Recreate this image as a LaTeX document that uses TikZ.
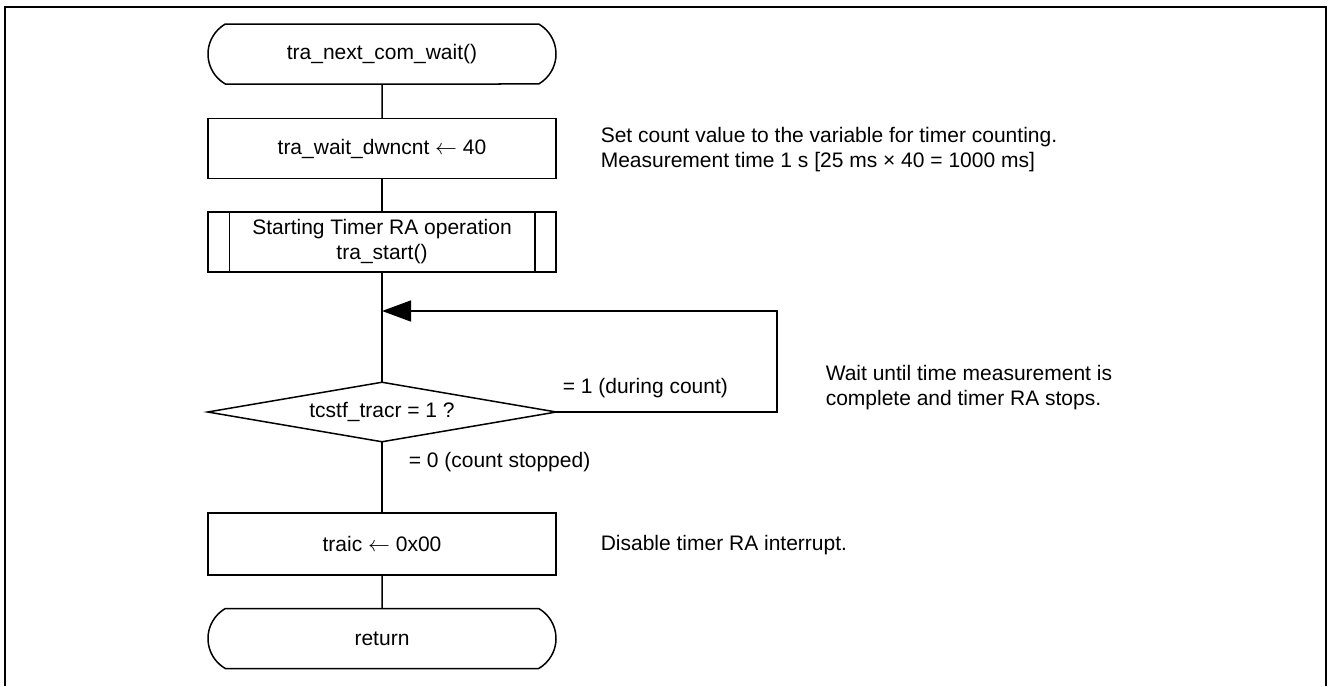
\documentclass[tikz,border=0pt]{standalone}
\usepackage{fontspec}
\setmainfont{Liberation Sans}
\usetikzlibrary{arrows.meta,shapes.misc}

\begin{document}
\begin{tikzpicture}[x=0.5pt,y=-0.5pt,
  font=\fontsize{10.5pt}{12.5pt}\selectfont,
  line width=0.75pt,
  term/.style={draw, rounded rectangle, rounded rectangle arc length=120,
    minimum width=174pt, minimum height=30pt, inner sep=0pt},
  proc/.style={draw, rectangle, minimum width=174pt, minimum height=30pt,
    inner sep=0pt, align=center},
  decide/.style={rectangle, minimum width=173.5pt, minimum height=29pt,
    inner sep=0pt},
  note/.style={anchor=west, inner sep=0pt, align=left},
  flow/.style={draw, line width=0.75pt},
  frame/.style={line width=1.1pt}
]
\useasboundingbox (0,0) rectangle (1328,686);

% page frame (open at the bottom)
\draw[frame] (5,686) -- (5,7) -- (1326,7) -- (1326,686);

% flowchart nodes
\node[term] (start) at (382,54) {tra\_next\_com\_wait()};
\node[proc] (set) at (382,148.5) {tra\_wait\_dwncnt $\leftarrow$ 40};
\node[proc] (run) at (382,242) {Starting Timer RA operation\\tra\_start()};
\draw ([xshift=11pt]run.north west) -- ([xshift=11pt]run.south west);
\draw ([xshift=-11pt]run.north east) -- ([xshift=-11pt]run.south east);
\node[decide] (test) at (382,412) {tcstf\_tracr = 1 ?};
\draw (test.north) -- (test.east) -- (test.south) -- (test.west) -- cycle;
\node[proc, minimum height=31pt] (dis) at (382,544) {traic $\leftarrow$ 0x00};
\node[term] (ret) at (382,638.5) {return};

% loop-back points
\coordinate (loopR) at (777,311);
\coordinate (join) at (382,311);

% connectors
\draw[flow] (start) -- (set);
\draw[flow] (set) -- (run);
\draw[flow] (run) -- (test.north);
\draw[flow] (test.south) -- (dis);
\draw[flow] (dis) -- (ret);
\draw[flow, -{Triangle[length=14.5pt,width=10.5pt]}]
  (test.east) -| (loopR) -- (join);

% branch labels
\node[note] (lone) at (562,388) {= 1 (during count)};
\node[note] (lzero) at (408,462) {= 0 (count stopped)};

% comments
\node[note] (c1) at (600,150) {Set count value to the variable for timer counting.\\Measurement time 1 s [25 ms × 40 = 1000 ms]};
\node[note] (c2) at (825,388) {Wait until time measurement is\\complete and timer RA stops.};
\node[note] (c3) at (600,545) {Disable timer RA interrupt.};
\end{tikzpicture}
\end{document}
